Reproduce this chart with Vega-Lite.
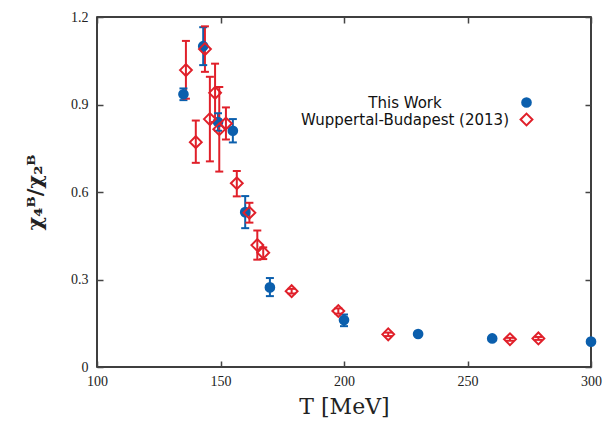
{
  "$schema": "https://vega.github.io/schema/vega-lite/v6.json",
  "width": 494,
  "height": 350,
  "autosize": "none",
  "padding": {"left": 97, "top": 17, "right": 24, "bottom": 55},
  "background": "white",
  "config": {
    "view": {"stroke": "#000000", "strokeWidth": 1.5},
    "axis": {"domain": false, "labelFlush": false,
             "labelFont": "Liberation Serif", "labelFontSize": 14, "labelColor": "#222222",
             "titleFont": "DejaVu Serif", "titleColor": "#222222"}
  },
  "data": {"values": [
    {"series": "This Work", "T": 135, "y": 0.935, "lo": 0.915, "hi": 0.955},
    {"series": "This Work", "T": 143, "y": 1.10, "lo": 1.035, "hi": 1.165},
    {"series": "This Work", "T": 149, "y": 0.84, "lo": 0.81, "hi": 0.87},
    {"series": "This Work", "T": 155, "y": 0.81, "lo": 0.77, "hi": 0.85},
    {"series": "This Work", "T": 160, "y": 0.531, "lo": 0.476, "hi": 0.586},
    {"series": "This Work", "T": 170, "y": 0.273, "lo": 0.243, "hi": 0.305},
    {"series": "This Work", "T": 200, "y": 0.161, "lo": 0.14, "hi": 0.18},
    {"series": "This Work", "T": 230, "y": 0.113, "lo": 0.109, "hi": 0.117},
    {"series": "This Work", "T": 260, "y": 0.098, "lo": 0.095, "hi": 0.101},
    {"series": "This Work", "T": 300, "y": 0.087, "lo": 0.084, "hi": 0.090},
    {"series": "Wuppertal-Budapest (2013)", "T": 136, "y": 1.018, "lo": 0.92, "hi": 1.118},
    {"series": "Wuppertal-Budapest (2013)", "T": 140, "y": 0.771, "lo": 0.70, "hi": 0.845},
    {"series": "Wuppertal-Budapest (2013)", "T": 143.7, "y": 1.09, "lo": 1.012, "hi": 1.168},
    {"series": "Wuppertal-Budapest (2013)", "T": 145.7, "y": 0.85, "lo": 0.705, "hi": 0.995},
    {"series": "Wuppertal-Budapest (2013)", "T": 147.8, "y": 0.94, "lo": 0.84, "hi": 1.04},
    {"series": "Wuppertal-Budapest (2013)", "T": 149.5, "y": 0.815, "lo": 0.67, "hi": 0.96},
    {"series": "Wuppertal-Budapest (2013)", "T": 152.2, "y": 0.835, "lo": 0.78, "hi": 0.89},
    {"series": "Wuppertal-Budapest (2013)", "T": 156.6, "y": 0.63, "lo": 0.585, "hi": 0.672},
    {"series": "Wuppertal-Budapest (2013)", "T": 161.7, "y": 0.529, "lo": 0.495, "hi": 0.563},
    {"series": "Wuppertal-Budapest (2013)", "T": 164.9, "y": 0.418, "lo": 0.368, "hi": 0.468},
    {"series": "Wuppertal-Budapest (2013)", "T": 167.3, "y": 0.392, "lo": 0.37, "hi": 0.41},
    {"series": "Wuppertal-Budapest (2013)", "T": 178.8, "y": 0.26, "lo": 0.252, "hi": 0.268},
    {"series": "Wuppertal-Budapest (2013)", "T": 197.7, "y": 0.192, "lo": 0.183, "hi": 0.201},
    {"series": "Wuppertal-Budapest (2013)", "T": 217.9, "y": 0.112, "lo": 0.106, "hi": 0.118},
    {"series": "Wuppertal-Budapest (2013)", "T": 267.2, "y": 0.095, "lo": 0.09, "hi": 0.10},
    {"series": "Wuppertal-Budapest (2013)", "T": 278.7, "y": 0.098, "lo": 0.093, "hi": 0.103}
  ]},
  "layer": [
    {
      "mark": {"type": "rule", "strokeWidth": 2},
      "encoding": {
        "x": {"field": "T", "type": "quantitative", "scale": {"domain": [100, 300]},
              "axis": {"orient": "bottom", "values": [100, 150, 200, 250, 300], "labelPadding": 7, "ticks": false, "zindex": 1,
                       "grid": true, "gridColor": "#444444", "gridWidth": 1.5, "gridOpacity": 1, "gridDash": [6, 338, 6],
                       "title": "T [MeV]", "titleFontSize": 22, "titleFontWeight": "normal", "titlePadding": 8}},
        "y": {"field": "lo", "type": "quantitative", "scale": {"domain": [0, 1.2]},
              "axis": {"orient": "left", "values": [0, 0.3, 0.6, 0.9, 1.2], "labelPadding": 9, "ticks": false, "zindex": 1,
                       "grid": true, "gridColor": "#444444", "gridWidth": 1.5, "gridOpacity": 1, "gridDash": [6, 482, 6],
                       "labelExpr": "datum.value === 0 ? '0' : format(datum.value, '.1f')",
                       "title": "χ₄ᴮ/χ₂ᴮ", "titleFontSize": 21, "titleFontWeight": "bold", "titlePadding": 25}},
        "y2": {"field": "hi"},
        "stroke": {"field": "series", "type": "nominal", "scale": {"domain": ["This Work", "Wuppertal-Budapest (2013)"], "range": ["#0b5fad", "#e0202a"]}}
      }
    },
    {
      "mark": {"type": "rule", "strokeWidth": 2, "xOffset": -4, "x2Offset": 4},
      "encoding": {
        "x": {"field": "T", "type": "quantitative"},
        "x2": {"field": "T"},
        "y": {"field": "lo", "type": "quantitative"},
        "stroke": {"field": "series", "type": "nominal"}
      }
    },
    {
      "mark": {"type": "rule", "strokeWidth": 2, "xOffset": -4, "x2Offset": 4},
      "encoding": {
        "x": {"field": "T", "type": "quantitative"},
        "x2": {"field": "T"},
        "y": {"field": "hi", "type": "quantitative"},
        "stroke": {"field": "series", "type": "nominal"}
      }
    },
    {
      "mark": {"type": "point", "strokeWidth": 2, "opacity": 1},
      "encoding": {
        "x": {"field": "T", "type": "quantitative"},
        "y": {"field": "y", "type": "quantitative"},
        "shape": {"field": "series", "type": "nominal", "scale": {"domain": ["This Work", "Wuppertal-Budapest (2013)"], "range": ["circle", "diamond"]},
                  "legend": {"orient": "none", "legendX": 422, "legendY": 78, "title": null, "padding": 0,
                             "labelAlign": "center", "labelOffset": -129, "labelFont": "DejaVu Sans", "labelFontSize": 15, "labelColor": "#111111",
                             "symbolStrokeWidth": 2, "rowPadding": -2, "labelLimit": 400}},
        "fill": {"field": "series", "type": "nominal", "scale": {"domain": ["This Work", "Wuppertal-Budapest (2013)"], "range": ["#0b5fad", "transparent"]}},
        "stroke": {"field": "series", "type": "nominal"},
        "size": {"field": "series", "type": "nominal", "scale": {"domain": ["This Work", "Wuppertal-Budapest (2013)"], "range": [75, 140]}}
      }
    }
  ]
}
